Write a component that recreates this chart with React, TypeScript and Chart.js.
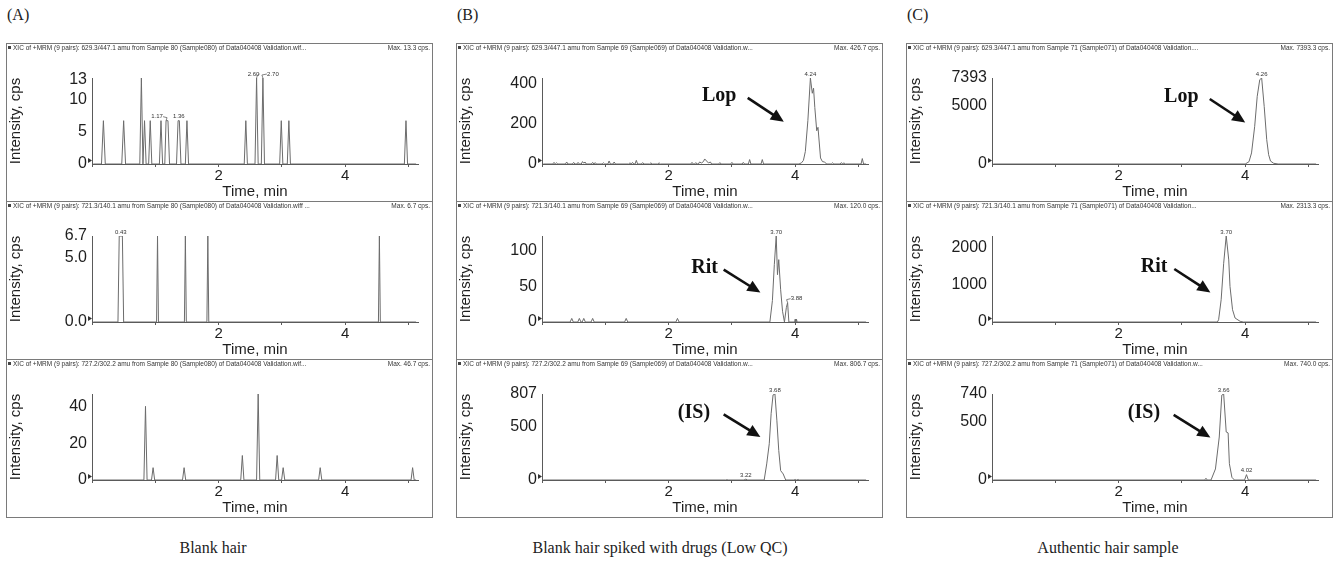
import React, { useEffect, useRef } from "react";
import { Chart, registerables } from "chart.js";

Chart.register(...registerables);

// ---------- shared axis data ----------
const X_TICKS = [0, 1, 2, 3, 4, 5];
const X_LABELED = [2, 4];
const X_MAX = 5.15;
const X_TITLE = "Time, min";
const Y_TITLE = "Intensity, cps";

const COLUMN_LABELS = ["(A)", "(B)", "(C)"];
const COLUMN_CAPTIONS = ["Blank hair", "Blank hair spiked with drugs (Low QC)", "Authentic hair sample"];

// ---------- column A : blank hair (Sample 80) ----------
const A1_POINTS = [
  [0.02, 0], [0.15, 0], [0.18, 6.7], [0.21, 0], [0.47, 0], [0.5, 6.7], [0.53, 0],
  [0.755, 0], [0.78, 13.3], [0.805, 0], [0.83, 6.7], [0.855, 0], [0.895, 0], [0.92, 6.7], [0.945, 0],
  [1.065, 0], [1.09, 6.7], [1.115, 0], [1.15, 0], [1.17, 6.7], [1.2, 6.7], [1.225, 0],
  [1.335, 0], [1.36, 6.7], [1.38, 6.7], [1.405, 0], [1.475, 0], [1.5, 6.7], [1.525, 0],
  [2.405, 0], [2.43, 6.7], [2.455, 0], [2.575, 0], [2.6, 13.3], [2.625, 0],
  [2.675, 0], [2.7, 13.3], [2.725, 0], [2.965, 0], [2.99, 6.7], [3.015, 0],
  [3.085, 0], [3.11, 6.7], [3.135, 0], [4.935, 0], [4.96, 6.7], [4.985, 0], [5.12, 0],
];
const A1_Y_TICKS = [0, 5, 10, 13];
const A1_Y_LABELS = ["0", "5", "10", "13"];
const A1_MAX = 13.3;

const A2_POINTS = [
  [0.02, 0], [0.41, 0], [0.43, 6.7], [0.48, 6.7], [0.5, 0],
  [1.02, 0], [1.035, 6.7], [1.05, 0], [1.46, 0], [1.475, 6.7], [1.49, 0],
  [1.815, 0], [1.83, 6.7], [1.845, 0], [4.525, 0], [4.54, 6.7], [4.555, 0], [5.12, 0],
];
const A2_Y_TICKS = [0, 5, 6.7];
const A2_Y_LABELS = ["0.0", "5.0", "6.7"];
const A2_MAX = 6.7;

const A3_POINTS = [
  [0.02, 0], [0.82, 0], [0.845, 40], [0.87, 0], [0.94, 0], [0.965, 6.7], [0.99, 0],
  [1.43, 0], [1.455, 6.7], [1.48, 0], [2.35, 0], [2.375, 13.3], [2.4, 0],
  [2.6, 0], [2.625, 46.7], [2.65, 0], [2.9, 0], [2.925, 13.3], [2.95, 0],
  [2.995, 0], [3.02, 6.7], [3.045, 0], [3.58, 0], [3.605, 6.7], [3.63, 0],
  [5.04, 0], [5.065, 6.7], [5.09, 0], [5.12, 0],
];
const A3_Y_TICKS = [0, 20, 40];
const A3_Y_LABELS = ["0", "20", "40"];
const A3_MAX = 46.7;

// ---------- column B : spiked blank hair (Sample 69) ----------
const B1_POINTS = [
  [0.02, 0], [0.17, 0], [0.19, 8], [0.21, 0], [0.23, 6], [0.25, 0],
  [0.37, 0], [0.39, 10], [0.41, 0], [0.48, 0], [0.5, 8], [0.52, 0],
  [0.55, 0], [0.57, 8], [0.59, 0], [0.62, 0], [0.64, 12], [0.66, 4], [0.68, 10], [0.7, 0],
  [0.78, 0], [0.8, 8], [0.82, 0], [0.84, 7], [0.86, 0], [0.95, 0], [0.97, 6], [0.99, 0],
  [1.04, 0], [1.06, 15], [1.08, 0], [1.12, 0], [1.14, 10], [1.16, 0],
  [1.37, 0], [1.39, 6], [1.41, 0], [1.43, 8], [1.45, 0], [1.47, 0], [1.49, 18], [1.51, 0],
  [1.57, 0], [1.59, 7], [1.61, 0], [1.7, 0], [1.72, 6], [1.74, 0], [1.83, 0], [1.85, 6], [1.87, 0],
  [2.35, 0], [2.37, 8], [2.39, 0], [2.41, 0], [2.43, 7], [2.45, 0], [2.47, 0], [2.49, 10],
  [2.52, 5], [2.55, 12], [2.57, 25], [2.6, 15], [2.63, 5], [2.66, 10], [2.68, 0],
  [2.79, 0], [2.81, 7], [2.83, 0], [2.98, 0], [3.0, 8], [3.02, 0],
  [3.16, 0], [3.18, 8], [3.2, 0], [3.26, 0], [3.28, 22], [3.3, 0], [3.46, 0], [3.48, 22], [3.5, 0],
  [4.06, 0], [4.1, 6], [4.13, 18], [4.16, 62], [4.2, 215], [4.24, 426.7], [4.27, 351], [4.29, 376],
  [4.31, 280], [4.34, 165], [4.36, 182], [4.4, 30], [4.43, 12], [4.46, 10], [4.5, 0],
  [4.57, 0], [4.59, 6], [4.61, 0], [4.71, 0], [4.73, 7], [4.75, 0], [4.77, 6], [4.79, 0],
  [5.04, 0], [5.06, 27], [5.08, 0], [5.12, 0],
];
const B1_Y_TICKS = [0, 200, 400];
const B1_Y_LABELS = ["0", "200", "400"];
const B1_MAX = 426.7;

const B2_POINTS = [
  [0.02, 0], [0.445, 0], [0.47, 5], [0.495, 0], [0.565, 0], [0.59, 5], [0.615, 0],
  [0.635, 0], [0.66, 5], [0.685, 0], [0.775, 0], [0.8, 5], [0.825, 0],
  [1.305, 0], [1.33, 5], [1.355, 0], [2.115, 0], [2.14, 5], [2.165, 0],
  [3.6, 0], [3.64, 30], [3.67, 80], [3.7, 120], [3.72, 66], [3.74, 87], [3.77, 45], [3.8, 15], [3.83, 0],
  [3.86, 20], [3.88, 27], [3.9, 0], [3.99, 0], [4.0, 4], [4.01, 0], [4.02, 4], [4.03, 0], [5.12, 0],
];
const B2_Y_TICKS = [0, 50, 100];
const B2_Y_LABELS = ["0", "50", "100"];
const B2_MAX = 120.0;

const B3_POINTS = [
  [0.02, 0], [2.9, 0], [2.92, 3], [2.94, 0], [3.19, 0], [3.22, 8], [3.25, 0],
  [3.51, 0], [3.55, 151], [3.59, 340], [3.62, 625], [3.65, 798], [3.68, 806.7], [3.71, 561],
  [3.74, 278], [3.77, 88], [3.81, 57], [3.85, 0], [3.98, 0], [4.0, 5], [4.02, 0], [4.05, 5], [4.07, 0], [5.12, 0],
];
const B3_Y_TICKS = [0, 500, 806.7];
const B3_Y_LABELS = ["0", "500", "807"];
const B3_MAX = 806.7;

// ---------- column C : authentic hair (Sample 71) ----------
const C1_POINTS = [
  [0.02, 0], [4.0, 0], [4.06, 200], [4.1, 950], [4.15, 3240], [4.19, 5820], [4.23, 7250],
  [4.26, 7393.3], [4.3, 4950], [4.34, 2090], [4.37, 800], [4.4, 250], [4.45, 60], [4.52, 0], [5.12, 0],
];
const C1_Y_TICKS = [0, 5000, 7393.3];
const C1_Y_LABELS = ["0", "5000", "7393"];
const C1_MAX = 7393.3;

const C2_POINTS = [
  [0.02, 0], [3.56, 0], [3.58, 60], [3.62, 598], [3.66, 1580], [3.7, 2313.3], [3.74, 1670],
  [3.76, 955], [3.8, 330], [3.84, 107], [3.92, 18], [3.97, 0], [5.12, 0],
];
const C2_Y_TICKS = [0, 1000, 2000];
const C2_Y_LABELS = ["0", "1000", "2000"];
const C2_MAX = 2313.3;

const C3_POINTS = [
  [0.02, 0], [3.36, 0], [3.38, 15], [3.4, 0], [3.46, 0], [3.53, 95], [3.59, 370], [3.63, 730],
  [3.66, 740], [3.7, 413], [3.73, 405], [3.75, 140], [3.79, 23], [3.83, 0],
  [3.99, 0], [4.02, 46], [4.05, 0], [5.12, 0],
];
const C3_Y_TICKS = [0, 500, 740];
const C3_Y_LABELS = ["0", "500", "740"];
const C3_MAX = 740.0;

const HDR = "XIC of +MRM (9 pairs): ";

type PeakLabel = { t: number; v: number; text: string; dx: number };
type Note = { text: string; tx: number; ty: number; x1: number; y1: number; x2: number; y2: number };
type PanelDef = {
  header: string; maxText: string; points: number[][];
  yMax: number; yTicks: number[]; yLabels: string[];
  peaks: PeakLabel[]; note?: Note;
};

const COLUMNS: PanelDef[][] = [
  [
    { header: HDR + "629.3/447.1 amu from Sample 80 (Sample080) of Data040408 Validation.wif...", maxText: "Max. 13.3 cps.",
      points: A1_POINTS, yMax: A1_MAX, yTicks: A1_Y_TICKS, yLabels: A1_Y_LABELS,
      peaks: [
        { t: 1.17, v: 6.7, text: "1.17", dx: -9 }, { t: 1.37, v: 6.7, text: "1.36", dx: 0 },
        { t: 2.6, v: 13.3, text: "2.60", dx: -3 }, { t: 2.7, v: 13.3, text: "2.70", dx: 10 },
      ] },
    { header: HDR + "721.3/140.1 amu from Sample 80 (Sample080) of Data040408 Validation.wiff ...", maxText: "Max. 6.7 cps.",
      points: A2_POINTS, yMax: A2_MAX, yTicks: A2_Y_TICKS, yLabels: A2_Y_LABELS,
      peaks: [{ t: 0.455, v: 6.7, text: "0.43", dx: 0 }] },
    { header: HDR + "727.2/302.2 amu from Sample 80 (Sample080) of Data040408 Validation.wif...", maxText: "Max. 46.7 cps.",
      points: A3_POINTS, yMax: A3_MAX, yTicks: A3_Y_TICKS, yLabels: A3_Y_LABELS, peaks: [] },
  ],
  [
    { header: HDR + "629.3/447.1 amu from Sample 69 (Sample069) of Data040408 Validation.w...", maxText: "Max. 426.7 cps.",
      points: B1_POINTS, yMax: B1_MAX, yTicks: B1_Y_TICKS, yLabels: B1_Y_LABELS,
      peaks: [{ t: 4.24, v: 426.7, text: "4.24", dx: 0 }],
      note: { text: "Lop", tx: 2.8, ty: 340, x1: 3.25, y1: 328, x2: 3.82, y2: 210 } },
    { header: HDR + "721.3/140.1 amu from Sample 69 (Sample069) of Data040408 Validation.w...", maxText: "Max. 120.0 cps.",
      points: B2_POINTS, yMax: B2_MAX, yTicks: B2_Y_TICKS, yLabels: B2_Y_LABELS,
      peaks: [{ t: 3.7, v: 120, text: "3.70", dx: 0 }, { t: 3.88, v: 27, text: "3.88", dx: 9 }],
      note: { text: "Rit", tx: 2.57, ty: 76, x1: 2.87, y1: 73, x2: 3.45, y2: 41 } },
    { header: HDR + "727.2/302.2 amu from Sample 69 (Sample069) of Data040408 Validation.w...", maxText: "Max. 806.7 cps.",
      points: B3_POINTS, yMax: B3_MAX, yTicks: B3_Y_TICKS, yLabels: B3_Y_LABELS,
      peaks: [{ t: 3.68, v: 806.7, text: "3.68", dx: 0 }, { t: 3.22, v: 8, text: "3.22", dx: 0 }],
      note: { text: "(IS)", tx: 2.4, ty: 630, x1: 2.87, y1: 616, x2: 3.45, y2: 403 } },
  ],
  [
    { header: HDR + "629.3/447.1 amu from Sample 71 (Sample071) of Data040408 Validation....", maxText: "Max. 7393.3 cps.",
      points: C1_POINTS, yMax: C1_MAX, yTicks: C1_Y_TICKS, yLabels: C1_Y_LABELS,
      peaks: [{ t: 4.26, v: 7393.3, text: "4.26", dx: 0 }],
      note: { text: "Lop", tx: 2.99, ty: 5750, x1: 3.44, y1: 5588, x2: 4.0, y2: 3577 } },
    { header: HDR + "721.3/140.1 amu from Sample 71 (Sample071) of Data040408 Validation...", maxText: "Max. 2313.3 cps.",
      points: C2_POINTS, yMax: C2_MAX, yTicks: C2_Y_TICKS, yLabels: C2_Y_LABELS,
      peaks: [{ t: 3.7, v: 2313.3, text: "3.70", dx: 0 }],
      note: { text: "Rit", tx: 2.56, ty: 1490, x1: 2.88, y1: 1425, x2: 3.45, y2: 796 } },
    { header: HDR + "727.2/302.2 amu from Sample 71 (Sample071) of Data040408 Validation.w...", maxText: "Max. 740.0 cps.",
      points: C3_POINTS, yMax: C3_MAX, yTicks: C3_Y_TICKS, yLabels: C3_Y_LABELS,
      peaks: [{ t: 3.66, v: 740, text: "3.66", dx: 0 }, { t: 4.02, v: 46, text: "4.02", dx: 0 }],
      note: { text: "(IS)", tx: 2.4, ty: 575, x1: 2.87, y1: 560, x2: 3.45, y2: 365 } },
  ],
];

// ---------- layout ----------
const COL_LEFT = [6, 456, 906];
const ROW_TOP = [43, 201, 359];
const BOX_W = 425;
const BOX_H = 157;
const CAPTION_CENTER = [213, 660, 1108];

const SANS = '"Liberation Sans", Arial, sans-serif';
const SERIF = '"Liberation Serif", "Times New Roman", serif';
const TXT = "#1e1e1e";
const AXIS = "#5a5a5a";

function Panel({ def, left, top }: { def: PanelDef; left: number; top: number }) {
  const ref = useRef<HTMLCanvasElement>(null);
  useEffect(() => {
    const canvas = ref.current;
    if (!canvas) return;
    const decor = {
      id: "xicDecor",
      afterDraw(chart: any) {
        const { ctx, chartArea, scales } = chart;
        const xs = scales.x;
        const ys = scales.y;
        ctx.save();
        // header line
        ctx.fillStyle = "#444";
        ctx.fillRect(1, 2, 3, 3);
        ctx.font = `6.5px ${SANS}`;
        ctx.textBaseline = "middle";
        ctx.textAlign = "left";
        ctx.fillStyle = "#333";
        ctx.fillText(def.header, 6, 4);
        ctx.textAlign = "right";
        ctx.fillText(def.maxText, chart.width - 2, 4);
        // origin marker
        ctx.fillStyle = "#333";
        ctx.beginPath();
        ctx.moveTo(chartArea.left - 4, chartArea.bottom - 6);
        ctx.lineTo(chartArea.left, chartArea.bottom - 3.5);
        ctx.lineTo(chartArea.left - 4, chartArea.bottom - 1);
        ctx.closePath();
        ctx.fill();
        // peak labels
        ctx.font = `6px ${SANS}`;
        ctx.textAlign = "center";
        ctx.textBaseline = "bottom";
        ctx.fillStyle = "#333";
        ctx.strokeStyle = "#666";
        ctx.lineWidth = 0.8;
        for (const p of def.peaks) {
          const px = xs.getPixelForValue(p.t);
          const py = ys.getPixelForValue(p.v);
          ctx.fillText(p.text, px + p.dx, py - 1);
          if (p.dx !== 0) {
            const side = p.dx < 0 ? 1 : -1;
            ctx.beginPath();
            ctx.moveTo(px + p.dx + side * 6, py - 4);
            ctx.lineTo(px + side * 1, py - 3);
            ctx.lineTo(px, py);
            ctx.stroke();
          }
        }
        // compound note with arrow
        const n = def.note;
        if (n) {
          ctx.fillStyle = "#111";
          ctx.font = `bold 20px ${SERIF}`;
          ctx.textAlign = "center";
          ctx.textBaseline = "middle";
          ctx.fillText(n.text, xs.getPixelForValue(n.tx), ys.getPixelForValue(n.ty));
          const x1 = xs.getPixelForValue(n.x1);
          const y1 = ys.getPixelForValue(n.y1);
          const x2 = xs.getPixelForValue(n.x2);
          const y2 = ys.getPixelForValue(n.y2);
          const ang = Math.atan2(y2 - y1, x2 - x1);
          const headLen = 13;
          const headW = 6;
          const bx = x2 - headLen * Math.cos(ang);
          const by = y2 - headLen * Math.sin(ang);
          ctx.strokeStyle = "#111";
          ctx.lineWidth = 2.6;
          ctx.beginPath();
          ctx.moveTo(x1, y1);
          ctx.lineTo(bx + 1 * Math.cos(ang), by + 1 * Math.sin(ang));
          ctx.stroke();
          ctx.beginPath();
          ctx.moveTo(x2, y2);
          ctx.lineTo(bx + headW * Math.sin(ang), by - headW * Math.cos(ang));
          ctx.lineTo(bx - headW * Math.sin(ang), by + headW * Math.cos(ang));
          ctx.closePath();
          ctx.fill();
        }
        ctx.restore();
      },
    };
    const chart = new Chart(canvas, {
      type: "line",
      data: {
        datasets: [
          {
            data: def.points.map(([x, y]) => ({ x, y })),
            borderColor: "#6c6c6c",
            borderWidth: 1,
            pointRadius: 0,
            tension: 0,
            fill: false,
          },
        ],
      },
      options: {
        animation: false,
        responsive: false,
        maintainAspectRatio: false,
        devicePixelRatio: 1,
        layout: { padding: { top: 34, right: 14, left: 0, bottom: 0 } },
        plugins: { legend: { display: false }, tooltip: { enabled: false }, title: { display: false } },
        scales: {
          x: {
            type: "linear",
            min: 0,
            max: X_MAX,
            afterFit: (s: any) => { s.height = 37; },
            afterBuildTicks: (s: any) => { s.ticks = X_TICKS.map((v) => ({ value: v })); },
            ticks: {
              autoSkip: false,
              maxRotation: 0,
              padding: 0,
              color: TXT,
              font: { family: SANS, size: 15 },
              callback: (v: any) => (X_LABELED.includes(Number(v)) ? String(v) : ""),
            },
            grid: { drawOnChartArea: false, tickLength: 3, color: AXIS, lineWidth: 1 },
            border: { display: true, color: AXIS, width: 1 },
            title: { display: true, text: X_TITLE, padding: 0, color: TXT, font: { family: SANS, size: 15 } },
          },
          y: {
            type: "linear",
            min: 0,
            max: def.yMax,
            afterFit: (s: any) => { s.width = 85; },
            afterBuildTicks: (s: any) => { s.ticks = def.yTicks.map((v) => ({ value: v })); },
            ticks: {
              padding: 5,
              color: TXT,
              font: { family: SANS, size: 16 },
              callback: (v: any) => {
                const i = def.yTicks.indexOf(Number(v));
                return i >= 0 ? def.yLabels[i] : "";
              },
            },
            grid: { drawOnChartArea: false, drawTicks: false },
            border: { display: true, color: AXIS, width: 1 },
            title: { display: true, text: Y_TITLE, padding: 0, color: TXT, font: { family: SANS, size: 15 } },
          },
        },
      },
      plugins: [decor],
    } as any);
    return () => chart.destroy();
  }, [def]);

  return (
    <div
      style={{
        position: "absolute",
        left,
        top,
        width: BOX_W,
        height: BOX_H,
        border: "1px solid #7a7a7a",
        background: "#fff",
      }}
    >
      <canvas ref={ref} width={BOX_W} height={BOX_H} style={{ display: "block", width: BOX_W, height: BOX_H }} />
    </div>
  );
}

export default function App() {
  return (
    <div
      style={{
        position: "fixed",
        left: 0,
        top: 0,
        width: 1341,
        height: 562,
        background: "#fff",
        overflow: "hidden",
      }}
    >
      {COLUMN_LABELS.map((label, i) => (
        <div
          key={label}
          style={{
            position: "absolute",
            left: COL_LEFT[i] + 1,
            top: 6,
            fontFamily: SERIF,
            fontSize: 16,
            lineHeight: "18px",
            color: "#222",
          }}
        >
          {label}
        </div>
      ))}
      {COLUMNS.map((col, ci) =>
        col.map((def, ri) => (
          <Panel key={`${ci}-${ri}`} def={def} left={COL_LEFT[ci]} top={ROW_TOP[ri]} />
        ))
      )}
      {COLUMN_CAPTIONS.map((cap, i) => (
        <div
          key={cap}
          style={{
            position: "absolute",
            left: CAPTION_CENTER[i] - 200,
            width: 400,
            top: 539,
            textAlign: "center",
            fontFamily: SERIF,
            fontSize: 16,
            lineHeight: "18px",
            color: "#222",
          }}
        >
          {cap}
        </div>
      ))}
    </div>
  );
}
